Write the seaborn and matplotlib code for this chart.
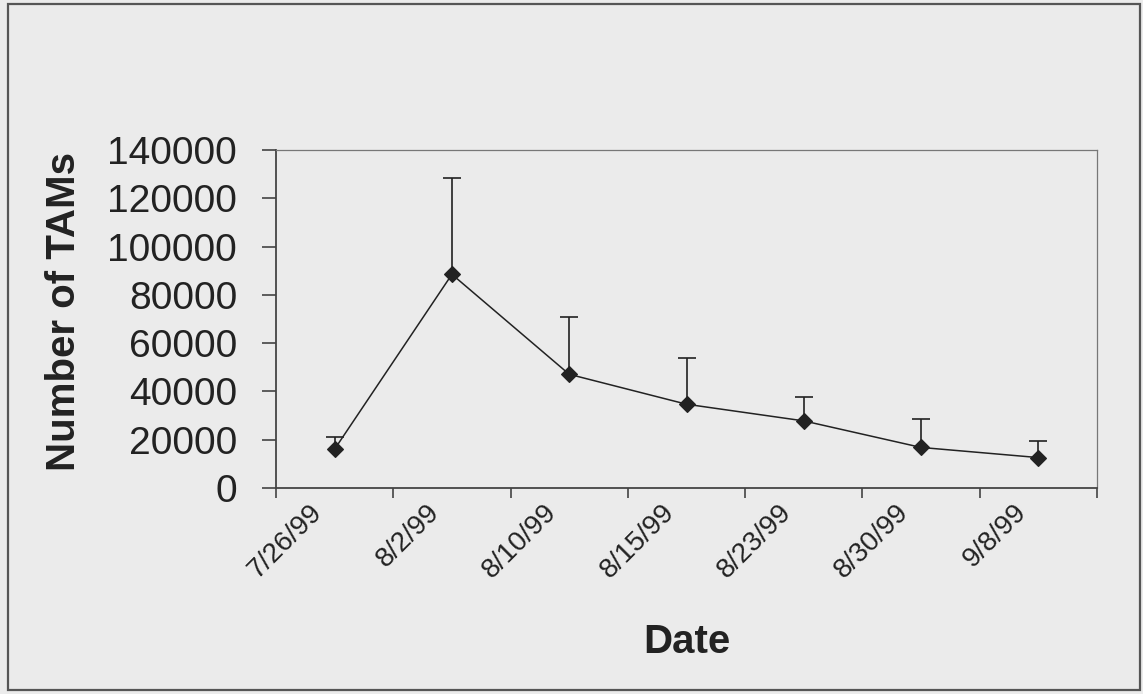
import numpy as np
import pandas as pd
import seaborn as sns
import matplotlib
matplotlib.use('Agg')
import matplotlib.pyplot as plt
from matplotlib.patches import Rectangle
from matplotlib.transforms import ScaledTranslation

# values
dates = ['7/26/99', '8/2/99', '8/10/99', '8/15/99', '8/23/99', '8/30/99', '9/8/99']
tams = [16100, 88500, 47100, 34700, 27800, 16800, 12600]
err_up = [5200, 39900, 23800, 19100, 10000, 11800, 6900]

df = pd.DataFrame({'Date': dates, 'TAMs': tams})

sns.set_style('ticks')
plt.rcParams['font.family'] = ['Liberation Sans', 'DejaVu Sans']

bg = '#ebebeb'
ink = '#222222'

fig = plt.figure(figsize=(11.43, 6.94), dpi=100, facecolor=bg)
ax = fig.add_axes([276/1143, 1 - 488/694, 821/1143, 338/694])
ax.set_facecolor(bg)

# upward error bars only
pos = np.arange(len(dates))
eb = ax.errorbar(pos, tams, yerr=[np.zeros(len(tams)), err_up], fmt='none',
                 ecolor=ink, elinewidth=1.2, capsize=6.5, capthick=1.2, zorder=2)
eb[1][0].set_visible(False)  # lower caps

sns.pointplot(data=df, x='Date', y='TAMs', ax=ax, color=ink, markers='D',
              markersize=8, linewidth=1.1, errorbar=None, zorder=3)

ax.set_xlim(-0.5, len(dates) - 0.5)
ax.set_ylim(0, 140000)
ax.set_yticks(range(0, 140001, 20000))
ax.set_yticklabels([str(v) for v in range(0, 140001, 20000)])

# ticks between categories, labels at category centres
ax.set_xticks(np.arange(-0.5, len(dates)), labels=[''] * (len(dates) + 1))
ax.set_xticks(pos, labels=dates, minor=True)
ax.tick_params(axis='x', which='major', length=7, width=1.2, color='#444')
ax.tick_params(axis='x', which='minor', length=0, pad=8, labelsize=20, labelcolor=ink)
ax.tick_params(axis='y', length=10, width=1.2, color='#444', pad=18,
               labelsize=28, labelcolor=ink)
off = ScaledTranslation(-7/100, 0, fig.dpi_scale_trans)
for lab in ax.get_xticklabels(minor=True):
    lab.set_rotation(45)
    lab.set_ha('right')
    lab.set_va('top')
    lab.set_transform(lab.get_transform() + off)

for s in ['left', 'bottom']:
    ax.spines[s].set_color('#444')
    ax.spines[s].set_linewidth(1.3)
for s in ['top', 'right']:
    ax.spines[s].set_color('#777')
    ax.spines[s].set_linewidth(0.9)
    ax.spines[s].set_linestyle((0, (1, 1)))

ax.set_xlabel('Date', fontsize=29, fontweight='bold', color=ink)
ax.set_ylabel('Number of TAMs', fontsize=29, fontweight='bold', color=ink)
ax.xaxis.set_label_coords(0.5, -0.40)
ax.xaxis.label.set_va('top')
ax.yaxis.set_label_coords(-0.235, 0.521)

# outer frame of the chart
fig.patches.append(Rectangle((8/1143, 4/694), 1132/1143, 686/694, transform=fig.transFigure,
                             fill=False, edgecolor='#555', linewidth=1.6))

fig.savefig('out.png', dpi=100, facecolor=bg)
